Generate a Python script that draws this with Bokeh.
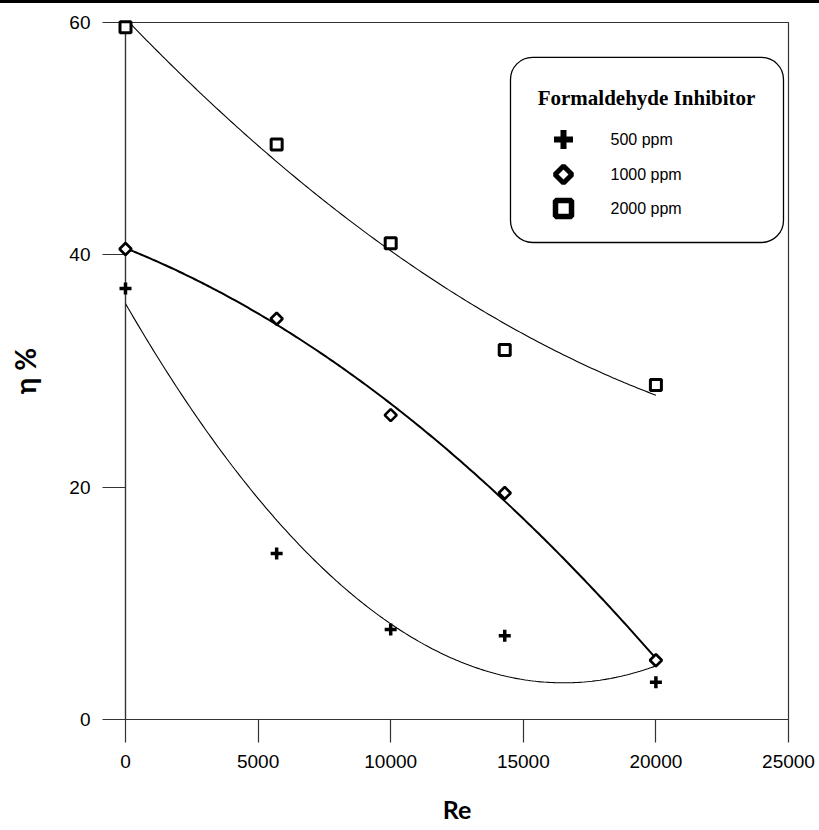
import numpy as np
from bokeh.plotting import figure
from bokeh.models import Div, BoxAnnotation, FixedTicker, Range1d
from bokeh.layouts import column
from bokeh.embed import file_html
from bokeh.resources import INLINE
from bokeh.core.properties import value

# ---- data ----
re_vals = [0, 5700, 10000, 14300, 20000]
eta_500 = [37.1, 14.3, 7.75, 7.2, 3.2]
eta_1000 = [40.5, 34.5, 26.2, 19.5, 5.1]
eta_2000 = [59.6, 49.5, 41.0, 31.8, 28.8]
x_ticks = [0, 5000, 10000, 15000, 20000, 25000]
y_ticks = [0, 20, 40, 60]
legend_title = "Formaldehyde Inhibitor"
legend_labels = ["500 ppm", "1000 ppm", "2000 ppm"]

p = figure(width=819, height=827, output_backend="svg", toolbar_location=None,
           x_range=Range1d(0, 25000), y_range=Range1d(0, 60),
           min_border_left=125, min_border_right=31, min_border_top=19,
           min_border_bottom=111)
p.grid.visible = False
p.outline_line_color = "#333333"
p.outline_line_width = 1.2
p.background_fill_color = "white"

for ax in (p.xaxis[0], p.yaxis[0]):
    ax.axis_line_color = "#333333"
    ax.axis_line_width = 1.2
    ax.major_tick_line_color = "#333333"
    ax.major_tick_line_width = 1.2
    ax.major_tick_out = 23
    ax.major_tick_in = 0
    ax.minor_tick_line_color = None
    ax.major_label_text_font = "Liberation Sans"
    ax.major_label_text_font_size = "19px"
    ax.major_label_text_color = "black"
    ax.axis_label_text_font = "Lato"
    ax.axis_label_text_font_style = "bold"
    ax.axis_label_text_color = "black"

p.xaxis.ticker = FixedTicker(ticks=x_ticks)
p.yaxis.ticker = FixedTicker(ticks=y_ticks)
p.xaxis.major_label_standoff = 12
p.yaxis.major_label_standoff = 12
p.xaxis.axis_label = "Re"
p.xaxis.axis_label_text_font_size = "25px"
p.xaxis.axis_label_standoff = 23
p.yaxis.axis_label = "η %"
p.yaxis.axis_label_text_font_size = "28px"
p.yaxis.axis_label_standoff = 24

# ---- legend box (rounded), drawn beneath the glyphs ----
box = BoxAnnotation(left=14517, right=24811, top=56.99, bottom=41.06,
                    fill_color="white", fill_alpha=1.0,
                    line_color="black", line_alpha=1.0, line_width=1.3,
                    border_radius=22, level="underlay")
p.add_layout(box)

# ---- fitted curves (2nd order regression of each series) ----
xs = np.linspace(re_vals[0], re_vals[-1], 200)
for ys, lw in ((eta_500, 1.1), (eta_1000, 2.0), (eta_2000, 1.1)):
    c = np.polyfit(re_vals, ys, 2)
    p.line(xs, np.polyval(c, xs), line_color="black", line_width=lw)

# ---- data markers ----
p.scatter(re_vals, eta_500, marker="cross", size=12, line_width=3.5,
          line_color="black", level="overlay")
p.scatter(re_vals, eta_1000, marker="square", angle=np.pi / 4, size=8.5,
          line_width=2.6, line_color="black", fill_color="white",
          level="overlay")
p.scatter(re_vals, eta_2000, marker="square", size=11, line_width=3,
          line_color="black", fill_color="white", level="overlay")

# ---- legend contents ----
p.text(x=[19646], y=[53.46], text=[legend_title],
       text_font=value("Liberation Serif"), text_font_style="bold",
       text_font_size="21px", text_align="center", text_baseline="middle",
       text_color="black", level="overlay")
leg_y = [49.93, 46.91, 43.99]
p.scatter([16516], [leg_y[0]], marker="cross", size=19, line_width=6,
          line_color="black", level="overlay")
p.scatter([16516], [leg_y[1]], marker="square", angle=np.pi / 4, size=12,
          line_width=5, line_color="black", fill_color="white",
          level="overlay")
p.scatter([16516], [leg_y[2]], marker="square", size=16, line_width=5.5,
          line_color="black", fill_color="white", level="overlay")
p.text(x=[18288] * 3, y=leg_y, text=legend_labels,
       text_font=value("Liberation Sans"), text_font_size="16px",
       text_align="left", text_baseline="middle", text_color="black",
       level="overlay")

bar = Div(width=819, height=3, margin=0,
          styles={"background-color": "black"})
layout = column(bar, p, spacing=0)

open("out.html", "w").write(file_html(layout, INLINE))
